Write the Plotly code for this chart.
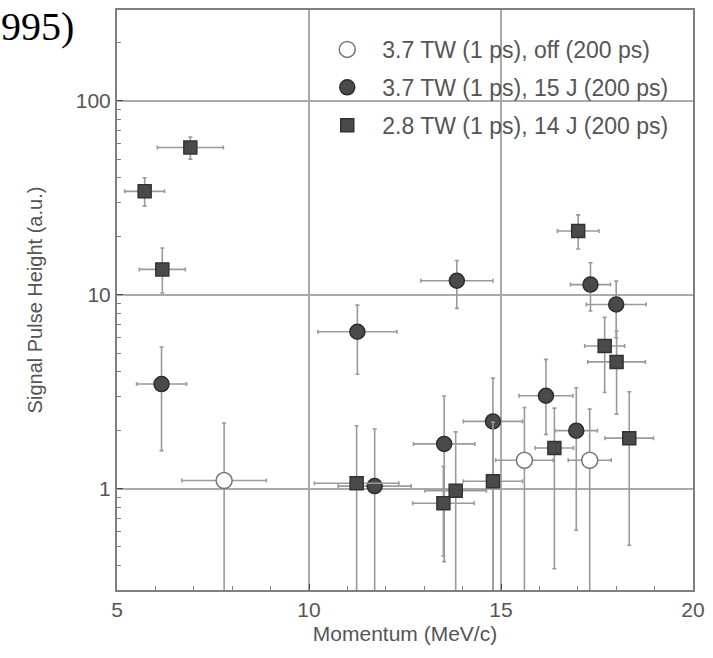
import plotly.graph_objects as go

# ---- data ----
# 3.7 TW (1 ps), off (200 ps)  -- open circles
off_x = [7.79, 15.61, 17.31]
off_y = [1.10, 1.40, 1.40]
off_xerr = [1.10, 0.75, 0.56]
off_yhi = [2.18, 2.62, 2.57]
off_ylo = [0.10, 0.10, 0.10]

# 3.7 TW (1 ps), 15 J (200 ps) -- filled circles
c15_x = [6.16, 11.26, 11.71, 13.52, 13.85, 14.79, 16.17, 16.96, 17.33, 18.00]
c15_y = [3.46, 6.44, 1.03, 1.70, 11.8, 2.22, 3.01, 1.99, 11.27, 8.9]
c15_xerr = [0.65, 1.03, 0.95, 0.80, 0.94, 0.77, 0.70, 0.55, 0.52, 0.78]
c15_yhi = [5.37, 8.83, 2.03, 3.00, 15.0, 3.71, 4.64, 3.31, 14.6, 11.74]
c15_ylo = [1.57, 3.89, 0.10, 0.42, 8.5, 0.10, 1.90, 0.61, 8.23, 6.0]

# 2.8 TW (1 ps), 14 J (200 ps) -- filled squares
s14_x = [5.72, 6.91, 6.18, 11.24, 13.50, 13.82, 14.79, 16.39, 17.01, 17.70, 18.01, 18.34]
s14_y = [34.1, 57.4, 13.5, 1.065, 0.84, 0.976, 1.09, 1.62, 21.3, 5.44, 4.5, 1.82]
s14_xerr = [0.52, 0.86, 0.60, 1.10, 0.80, 0.80, 0.77, 0.50, 0.54, 0.52, 0.75, 0.63]
s14_yhi = [40.1, 65.0, 17.4, 2.11, 1.30, 1.96, 2.20, 2.60, 25.8, 7.65, 6.5, 3.16]
s14_ylo = [28.6, 50.0, 10.2, 0.10, 0.45, 0.10, 0.10, 0.386, 17.2, 3.13, 2.42, 0.51]

names = ["3.7 TW (1 ps), off (200 ps)",
         "3.7 TW (1 ps), 15 J (200 ps)",
         "2.8 TW (1 ps), 14 J (200 ps)"]

x_ticks = [5, 10, 15, 20]
y_ticks = [1, 10, 100]
y_ticklabels = ["1", "10", "100"]

FONT = "Liberation Sans, Arial, sans-serif"
ERR = "#9a9a9a"


def add(xs, ys, xe, yhi, ylo, name, symbol, fill, line, size, grp):
    plus = [h - v for h, v in zip(yhi, ys)]
    minus = [v - l for l, v in zip(ylo, ys)]
    fig.add_trace(go.Scatter(
        x=xs, y=ys, mode="markers", name=name, legendgroup=grp,
        marker=dict(symbol=symbol, size=size, color=fill,
                    line=dict(color=line, width=1.5)),
        error_x=dict(type="data", array=xe, color=ERR, thickness=1.6, width=2),
        error_y=dict(type="data", symmetric=False, array=plus, arrayminus=minus,
                     color=ERR, thickness=1.6, width=2),
    ))


fig = go.Figure()
add(off_x, off_y, off_xerr, off_yhi, off_ylo, names[0], "circle", "white", "#777777", 16, "g1")
add(c15_x, c15_y, c15_xerr, c15_yhi, c15_ylo, names[1], "circle", "#4a4a4a", "#2e2e2e", 15, "g2")
add(s14_x, s14_y, s14_xerr, s14_yhi, s14_ylo, names[2], "square", "#4a4a4a", "#333333", 13, "g3")

fig.update_layout(
    width=713, height=658,
    margin=dict(l=117, r=15, t=8, b=68),
    paper_bgcolor="white", plot_bgcolor="white",
    font=dict(family=FONT, size=21, color="#555555"),
    showlegend=True,
    legend=dict(x=0.339, y=0.969, xanchor="left", yanchor="top",
                bgcolor="rgba(255,255,255,0)", font=dict(size=23, color="#555555"),
                itemwidth=60, tracegroupgap=5),
    xaxis=dict(range=[5, 20], tickvals=x_ticks, ticks="inside", ticklen=6,
               showline=True, mirror=True, linecolor="#808080", linewidth=2,
               showgrid=True, gridcolor="#aaaaaa", gridwidth=1.5,
               zeroline=False,
               minor=dict(dtick=1, ticks="inside", ticklen=4, tickcolor="#808080", showgrid=False),
               title=dict(text="Momentum (MeV/c)", standoff=6, font=dict(size=21))),
    yaxis=dict(type="log", range=[-0.523, 2.468], tickvals=y_ticks, ticktext=y_ticklabels,
               ticks="inside", ticklen=6,
               showline=True, mirror=True, linecolor="#808080", linewidth=2,
               showgrid=True, gridcolor="#aaaaaa", gridwidth=1.5,
               minor=dict(dtick="D1", ticks="inside", ticklen=4, tickcolor="#808080", showgrid=False),
               title=dict(text="Signal Pulse Height (a.u.)", standoff=28, font=dict(size=20))),
)

fig.add_annotation(text="995)", xref="paper", yref="paper", x=-0.205, y=0.972,
                   xanchor="left", yanchor="middle", showarrow=False,
                   font=dict(family="Liberation Serif, Times New Roman, serif", size=40, color="black"))

fig.write_html("out.html")
